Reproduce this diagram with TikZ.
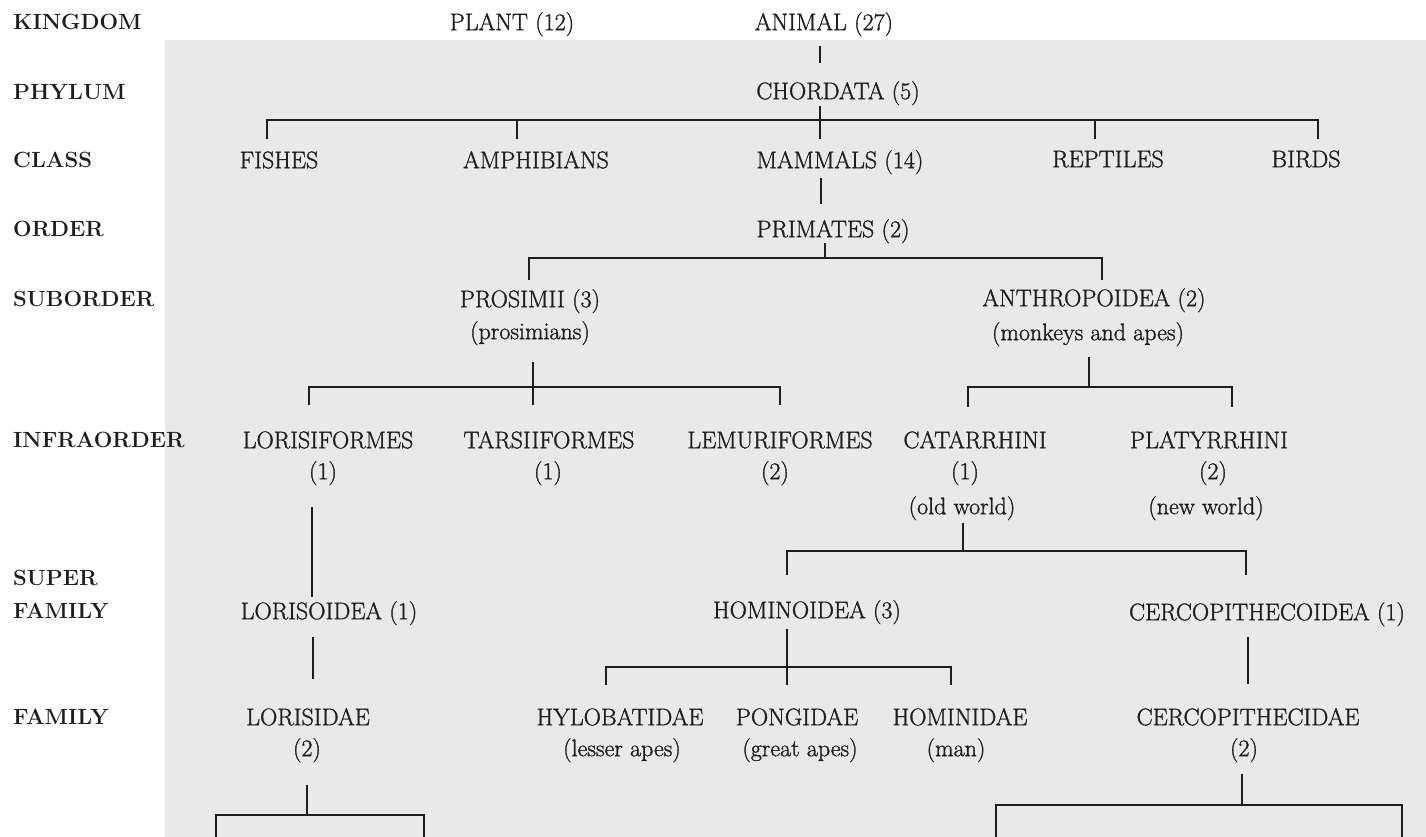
\documentclass[tikz,border=0pt]{standalone}
\usepackage{fontspec}
\newfontfamily\heavy{Latin Modern Roman}[RawFeature={embolden=1.2}]
\newfontfamily\heavybf{Latin Modern Roman}[UprightFont=*,BoldFont=*,RawFeature={embolden=0.6}]
\definecolor{ink}{HTML}{1E1E1E}
\definecolor{paper}{HTML}{E9E9E9}
\begin{document}
\begin{tikzpicture}[x=1pt,y=-1pt,
  tx/.style={inner sep=0pt,text height=16.4pt,text depth=0pt,anchor=center,text=ink,
     font=\heavy\fontsize{24}{28}\selectfont},
  lab/.style={inner sep=0pt,text height=14.7pt,text depth=0pt,anchor=west,text=ink,
     font=\bfseries\fontsize{22}{24}\selectfont},
  conn/.style={draw=ink,line width=1.3pt}]
\useasboundingbox (0,0) rectangle (1426,837);
\fill[paper] (165,40) rectangle (1426,837);

% rank labels
\node[lab] (lk) at (13,22) {KINGDOM};
\node[lab] (lp) at (13,92) {PHYLUM};
\node[lab] (lc) at (13,160) {CLASS};
\node[lab] (lo) at (13,229) {ORDER};
\node[lab] (ls) at (13,299) {SUBORDER};
\node[lab] (li) at (13,440) {INFRAORDER};
\node[lab] (lsu) at (13,578) {SUPER};
\node[lab] (lsf) at (13,611) {FAMILY};
\node[lab] (lf) at (13,717) {FAMILY};

% taxa
\node[tx] (plant) at (512,22) {PLANT (12)};
\node[tx] (animal) at (824,22) {ANIMAL (27)};
\node[tx] (chordata) at (838,91) {CHORDATA (5)};
\node[tx] (fishes) at (279,160) {FISHES};
\node[tx] (amphib) at (536,160) {AMPHIBIANS};
\node[tx] (mammals) at (840,160) {MAMMALS (14)};
\node[tx] (reptiles) at (1108,159) {REPTILES};
\node[tx] (birds) at (1306,159) {BIRDS};
\node[tx] (primates) at (833,229) {PRIMATES (2)};
\node[tx] (prosimii) at (530,299) {PROSIMII (3)};
\node[tx] (prosimii2) at (530,331) {(prosimians)};
\node[tx] (anthro) at (1094,298) {ANTHROPOIDEA (2)};
\node[tx] (anthro2) at (1088,332) {(monkeys and apes)};
\node[tx] (loris) at (328,440) {LORISIFORMES};
\node[tx] (loris2) at (323,471) {(1)};
\node[tx] (tars) at (549,440) {TARSIIFORMES};
\node[tx] (tars2) at (548,471) {(1)};
\node[tx] (lemur) at (780,440) {LEMURIFORMES};
\node[tx] (lemur2) at (775,471) {(2)};
\node[tx] (catar) at (975,440) {CATARRHINI};
\node[tx] (catar2) at (965,471) {(1)};
\node[tx] (catar3) at (962,506) {(old world)};
\node[tx] (platy) at (1209,440) {PLATYRRHINI};
\node[tx] (platy2) at (1213,471) {(2)};
\node[tx] (platy3) at (1206,506) {(new world)};
\node[tx] (lorisoid) at (329,611) {LORISOIDEA (1)};
\node[tx] (hominoid) at (807,610) {HOMINOIDEA (3)};
\node[tx] (cercoid) at (1267,612) {CERCOPITHECOIDEA (1)};
\node[tx] (lorisid) at (308,717) {LORISIDAE};
\node[tx] (lorisid2) at (307,748) {(2)};
\node[tx] (hylo) at (620,717) {HYLOBATIDAE};
\node[tx] (hylo2) at (622,748) {(lesser apes)};
\node[tx] (pong) at (797,717) {PONGIDAE};
\node[tx] (pong2) at (800,748) {(great apes)};
\node[tx] (homin) at (960,717) {HOMINIDAE};
\node[tx] (homin2) at (956,748) {(man)};
\node[tx] (cercid) at (1248,717) {CERCOPITHECIDAE};
\node[tx] (cercid2) at (1244,748) {(2)};

% connector points
\coordinate (a1) at (820,46);   \coordinate (a2) at (820,63);
\coordinate (c0) at (820,106);  \coordinate (cbL) at (267,120); \coordinate (cbR) at (1318,120);
\coordinate (t1) at (267,139);  \coordinate (t2) at (517,139);  \coordinate (t3) at (820,139);
\coordinate (t4) at (1095,139); \coordinate (t5) at (1318,139);
\coordinate (m1) at (821,178);  \coordinate (m2) at (821,204);
\coordinate (p0) at (825,243);  \coordinate (pbL) at (529,258); \coordinate (pbR) at (1102,258);
\coordinate (p1) at (529,280);  \coordinate (p2) at (1102,280);
\coordinate (s0) at (533,362);  \coordinate (sbL) at (309,387); \coordinate (sbR) at (780,387);
\coordinate (s1) at (309,405);  \coordinate (s2) at (533,405);  \coordinate (s3) at (780,405);
\coordinate (n0) at (1089,357); \coordinate (nbL) at (968,387); \coordinate (nbR) at (1232,387);
\coordinate (n1) at (968,407);  \coordinate (n2) at (1232,407);
\coordinate (l1) at (312,507);  \coordinate (l2) at (312,597);
\coordinate (k0) at (963,523);  \coordinate (kbL) at (787,551); \coordinate (kbR) at (1246,551);
\coordinate (k1) at (787,575);  \coordinate (k2) at (1246,575);
\coordinate (o1) at (313,637);  \coordinate (o2) at (313,679);
\coordinate (h0) at (787,629);  \coordinate (hbL) at (606,667); \coordinate (hbR) at (951,667);
\coordinate (h1) at (606,685);  \coordinate (h2) at (787,685);  \coordinate (h3) at (951,685);
\coordinate (e1) at (1248,637); \coordinate (e2) at (1248,684);
\coordinate (d0) at (307,785);  \coordinate (dbL) at (216,815); \coordinate (dbR) at (424,815);
\coordinate (d1) at (216,840);  \coordinate (d2) at (424,840);
\coordinate (f0) at (1242,774); \coordinate (fbL) at (996,805); \coordinate (fbR) at (1402,805);
\coordinate (f1) at (996,840);  \coordinate (f2) at (1402,840);

% connectors
\draw[conn] (a1) -- (a2);
\draw[conn] (c0) -- (t3);
\draw[conn] (t1) -- (cbL) -- (cbR) -- (t5);
\draw[conn] (t2) -- (t2 |- cbL);
\draw[conn] (t4) -- (t4 |- cbL);
\draw[conn] (m1) -- (m2);
\draw[conn] (p0) -- (p0 |- pbL);
\draw[conn] (p1) -- (pbL) -- (pbR) -- (p2);
\draw[conn] (s0) -- (s2);
\draw[conn] (s1) -- (sbL) -- (sbR) -- (s3);
\draw[conn] (n0) -- (n0 |- nbL);
\draw[conn] (n1) -- (nbL) -- (nbR) -- (n2);
\draw[conn] (l1) -- (l2);
\draw[conn] (k0) -- (k0 |- kbL);
\draw[conn] (k1) -- (kbL) -- (kbR) -- (k2);
\draw[conn] (o1) -- (o2);
\draw[conn] (h0) -- (h2);
\draw[conn] (h1) -- (hbL) -- (hbR) -- (h3);
\draw[conn] (e1) -- (e2);
\draw[conn] (d0) -- (d0 |- dbL);
\draw[conn] (d1) -- (dbL) -- (dbR) -- (d2);
\draw[conn] (f0) -- (f0 |- fbL);
\draw[conn] (f1) -- (fbL) -- (fbR) -- (f2);
\end{tikzpicture}
\end{document}
